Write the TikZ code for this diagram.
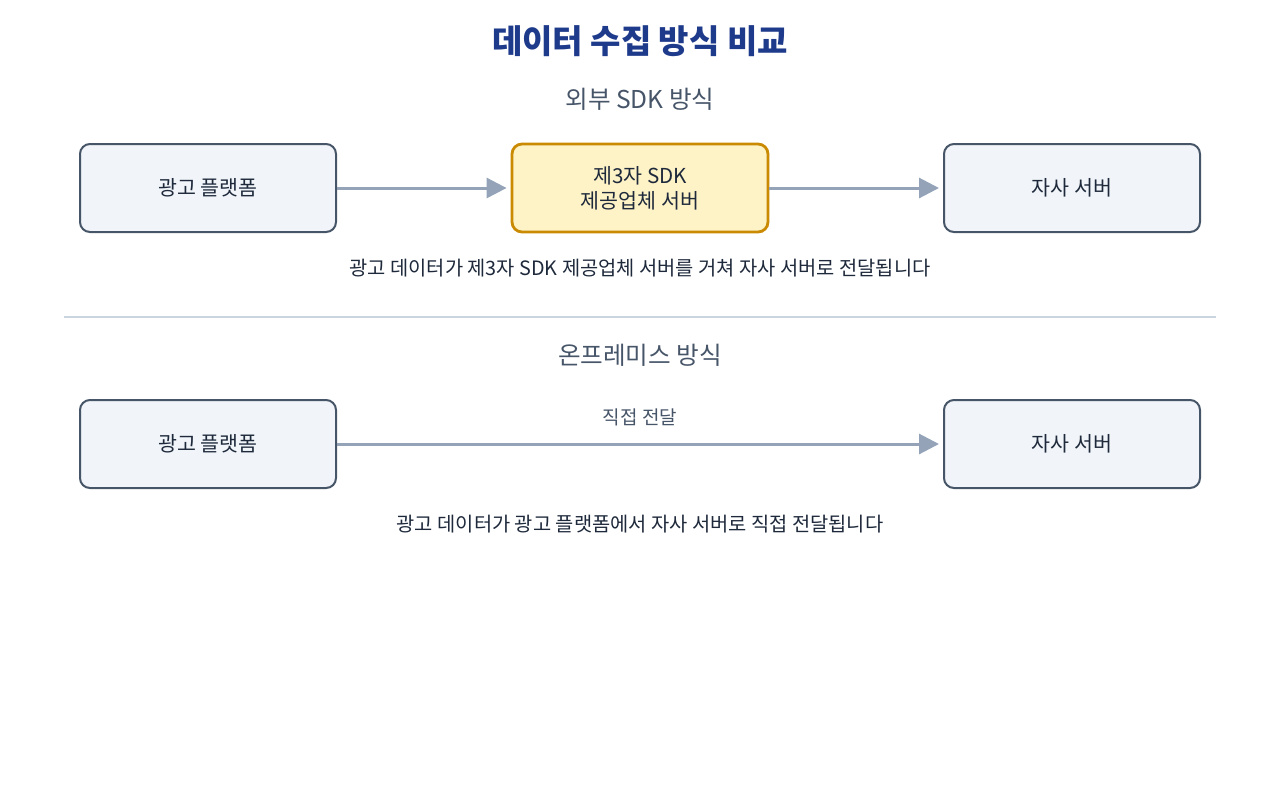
\documentclass[tikz,border=0pt]{standalone}
\usepackage{fontspec}
\setmainfont{Noto Sans CJK KR}
\usetikzlibrary{arrows.meta}
\definecolor{boxfill}{HTML}{F1F5F9}
\definecolor{boxline}{HTML}{475569}
\definecolor{sdkfill}{HTML}{FEF3C7}
\definecolor{sdkline}{HTML}{CA8A04}
\definecolor{arrowcol}{HTML}{94A3B8}
\definecolor{titlecol}{HTML}{1E3A8A}
\definecolor{textcol}{HTML}{1E293B}
\definecolor{rulecol}{HTML}{CBD5E1}

\begin{document}
\begin{tikzpicture}[
    x=0.5pt, y=-0.5pt,
    boxnode/.style={rectangle, rounded corners=5pt, draw=boxline, line width=1pt, fill=boxfill,
        minimum width=128pt, minimum height=44pt, font=\fontsize{10.3}{12.5}\selectfont, text=textcol, align=center},
    sdknode/.style={boxnode, draw=sdkline, fill=sdkfill, line width=1.4pt},
    flow/.style={draw=arrowcol, line width=1.5pt, shorten >=2pt, -{Triangle[length=10pt,width=10pt]}},
    heading/.style={font=\fontsize{12.3}{14}\selectfont, text=boxline},
    caption/.style={font=\fontsize{9.9}{12}\selectfont, text=textcol},
]
    \useasboundingbox (0,0) rectangle (1280,800);

    % title
    \node [font=\fontsize{16.5}{18}\selectfont\bfseries, text=titlecol] (title) at (640,41) {데이터 수집 방식 비교};

    % external SDK
    \node [heading] (headSdk) at (640,99) {외부 SDK 방식};
    \node [boxnode] (adTop) at (208,188) {광고 플랫폼};
    \node [sdknode] (sdk) at (640,188) {제3자 SDK\\제공업체 서버};
    \node [boxnode] (srvTop) at (1072,188) {자사 서버};
    \draw [flow] (adTop) -- (sdk);
    \draw [flow] (sdk) -- (srvTop);
    \node [caption] (capSdk) at (640,268) {광고 데이터가 제3자 SDK 제공업체 서버를 거쳐 자사 서버로 전달됩니다};

    % divider
    \coordinate (divL) at (64,317);
    \coordinate (divR) at (1216,317);
    \draw [rulecol, line width=0.6pt] (divL) -- (divR);

    % on-premise
    \node [heading] (headOnp) at (640,355) {온프레미스 방식};
    \node [boxnode] (adBot) at (208,444) {광고 플랫폼};
    \node [boxnode] (srvBot) at (1072,444) {자사 서버};
    \draw [flow] (adBot) -- node [above=5pt, font=\fontsize{9.5}{11}\selectfont, text=boxline] (direct) {직접 전달} (srvBot);
    \node [caption] (capOnp) at (640,524) {광고 데이터가 광고 플랫폼에서 자사 서버로 직접 전달됩니다};
\end{tikzpicture}
\end{document}
